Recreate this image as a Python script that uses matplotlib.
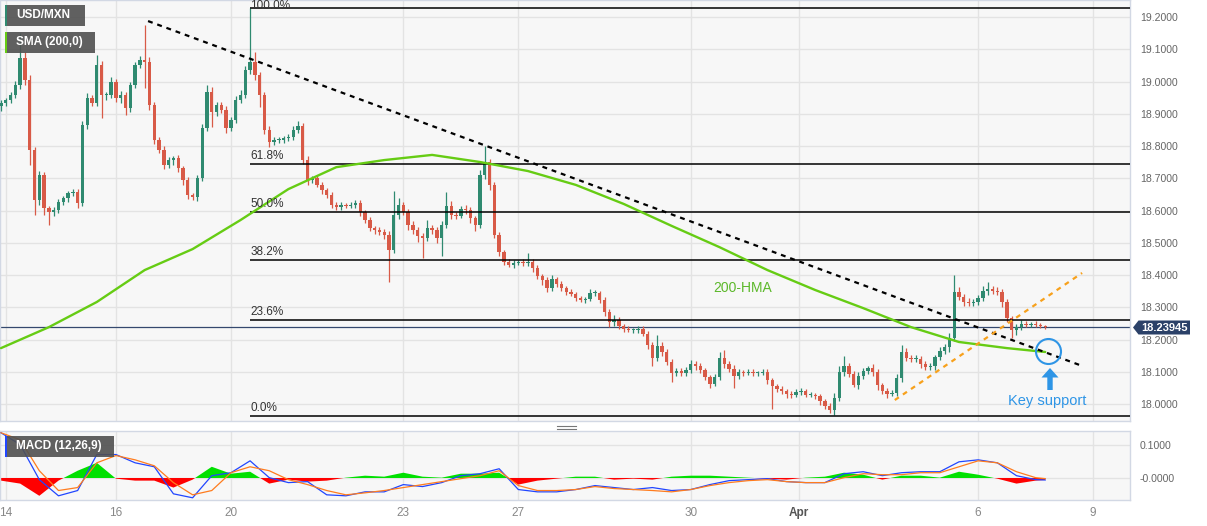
import matplotlib
matplotlib.use("Agg")
import matplotlib.pyplot as plt
from matplotlib.patches import Rectangle, Polygon
from matplotlib.lines import Line2D
import numpy as np

plt.rcParams['font.family'] = ['Liberation Sans', 'DejaVu Sans']

# ---------------- data (2-hour candles, USD/MXN) ----------------
first_open = 18.925
closes = [
    18.934, 18.943, 18.959, 18.990, 19.073, 19.005, 18.788, 18.633, 18.711, 18.608,
    18.596, 18.602, 18.627, 18.639, 18.655, 18.658, 18.624, 18.866, 18.949, 18.934,
    19.052, 18.959, 18.959, 18.999, 18.949, 18.959, 18.918, 18.990, 19.052, 19.067,
    19.061, 18.928, 18.819, 18.788, 18.742, 18.757, 18.763, 18.732, 18.695, 18.649,
    18.642, 18.701, 18.856, 18.968, 18.906, 18.928, 18.912, 18.856, 18.881, 18.943,
    18.959, 19.036, 19.061, 19.021, 18.959, 18.850, 18.813, 18.819, 18.819, 18.825,
    18.829, 18.850, 18.863, 18.757, 18.695, 18.701, 18.680, 18.664, 18.649, 18.618,
    18.611, 18.618, 18.615, 18.618, 18.624, 18.596, 18.571, 18.546, 18.540, 18.534,
    18.525, 18.478, 18.587, 18.618, 18.596, 18.556, 18.540, 18.522, 18.515, 18.546,
    18.540, 18.515, 18.556, 18.615, 18.587, 18.584, 18.605, 18.602, 18.577, 18.556,
    18.711, 18.751, 18.680, 18.525, 18.472, 18.441, 18.432, 18.438, 18.441, 18.438,
    18.441, 18.422, 18.398, 18.385, 18.360, 18.388, 18.373, 18.360, 18.348, 18.342,
    18.329, 18.323, 18.326, 18.345, 18.345, 18.323, 18.286, 18.255, 18.261, 18.242,
    18.233, 18.230, 18.230, 18.233, 18.218, 18.184, 18.143, 18.180, 18.162, 18.131,
    18.097, 18.103, 18.097, 18.106, 18.125, 18.118, 18.106, 18.084, 18.063, 18.084,
    18.143, 18.125, 18.109, 18.087, 18.100, 18.097, 18.100, 18.097, 18.097, 18.100,
    18.075, 18.056, 18.047, 18.041, 18.032, 18.029, 18.038, 18.041, 18.029, 18.029,
    18.025, 18.010, 17.994, 17.982, 18.019, 18.100, 18.118, 18.094, 18.060, 18.087,
    18.103, 18.112, 18.100, 18.060, 18.041, 18.032, 18.035, 18.081, 18.162, 18.143,
    18.140, 18.140, 18.125, 18.115, 18.118, 18.146, 18.165, 18.177, 18.205, 18.348,
    18.332, 18.317, 18.314, 18.317, 18.329, 18.351, 18.357, 18.351, 18.348, 18.317,
    18.267, 18.230, 18.239, 18.249, 18.246, 18.249, 18.246, 18.242, 18.239,
]
# wick extensions beyond the body, in thousandths
up_wick = [
    8, 6, 10, 12, 78, 20, 15, 10, 12, 8,
    6, 8, 10, 8, 6, 8, 10, 12, 15, 10,
    30, 12, 10, 15, 8, 12, 10, 8, 10, 12,
    109, 15, 10, 8, 12, 10, 8, 10, 6, 8,
    6, 10, 12, 22, 15, 10, 8, 12, 10, 12,
    15, 12, 167, 31, 10, 8, 12, 8, 10, 8,
    10, 12, 15, 10, 12, 8, 10, 8, 6, 8,
    8, 10, 6, 8, 10, 8, 6, 8, 6, 8,
    10, 12, 73, 20, 10, 8, 12, 8, 10, 25,
    10, 8, 12, 44, 15, 8, 10, 12, 8, 6,
    15, 50, 10, 8, 8, 6, 8, 10, 6, 8,
    28, 8, 10, 6, 10, 12, 8, 10, 6, 8,
    6, 8, 6, 12, 8, 6, 8, 10, 15, 8,
    6, 8, 6, 8, 10, 8, 10, 35, 12, 8,
    8, 10, 8, 10, 12, 8, 10, 6, 8, 10,
    19, 25, 10, 12, 8, 6, 8, 10, 6, 8,
    8, 6, 8, 10, 6, 8, 10, 8, 6, 8,
    6, 8, 6, 10, 15, 20, 31, 10, 8, 12,
    10, 8, 12, 8, 6, 8, 10, 12, 21, 12,
    10, 12, 10, 8, 10, 8, 12, 10, 15, 53,
    16, 10, 12, 8, 10, 15, 22, 10, 12, 8,
    8, 6, 10, 12, 8, 6, 8, 6, 5,
]
dn_wick = [
    15, 10, 8, 10, 12, 15, 47, 47, 15, 20,
    40, 12, 10, 8, 12, 10, 15, 10, 12, 10,
    10, 72, 15, 10, 12, 15, 20, 12, 10, 8,
    82, 15, 12, 10, 12, 10, 15, 12, 15, 12,
    10, 12, 10, 10, 48, 12, 10, 15, 10, 8,
    8, 10, 12, 15, 38, 12, 15, 10, 8, 10,
    8, 10, 8, 12, 15, 10, 8, 12, 10, 10,
    8, 10, 8, 6, 10, 12, 10, 8, 12, 10,
    12, 99, 10, 12, 10, 15, 12, 20, 63, 10,
    12, 15, 54, 10, 12, 10, 8, 12, 15, 20,
    10, 12, 15, 10, 12, 10, 8, 10, 6, 8,
    10, 12, 10, 15, 12, 10, 8, 10, 8, 6,
    8, 6, 8, 6, 8, 10, 12, 15, 12, 10,
    8, 6, 8, 10, 8, 12, 23, 10, 12, 10,
    29, 8, 10, 8, 10, 12, 8, 10, 13, 8,
    10, 12, 8, 38, 10, 8, 6, 8, 10, 6,
    12, 70, 10, 8, 12, 10, 8, 10, 8, 6,
    10, 12, 10, 9, 15, 10, 12, 10, 7, 12,
    8, 10, 12, 15, 10, 12, 8, 10, 12, 10,
    8, 10, 12, 8, 10, 12, 10, 8, 15, 10,
    10, 12, 8, 10, 8, 10, 12, 10, 8, 15,
    12, 25, 16, 10, 8, 6, 8, 5, 5,
]

hma_bars = [0, 10, 20, 30, 40, 50, 60, 70, 80, 90, 100, 110, 120, 130, 140,
            150, 160, 170, 180, 190, 200, 210, 218]
hma_vals = [18.174, 18.239, 18.317, 18.416, 18.481, 18.571, 18.667, 18.735,
            18.757, 18.773, 18.751, 18.723, 18.680, 18.621, 18.553, 18.487,
            18.416, 18.354, 18.298, 18.239, 18.193, 18.174, 18.162]

fib_high, fib_low = 19.228, 17.963
fib_start_bar = 52
fib_ratios = [1.0, 0.618, 0.5, 0.382, 0.236, 0.0]
fib_labels = ['100.0%', '61.8%', '50.0%', '38.2%', '23.6%', '0.0%']

down_trend_x = [30.7, 225.3]
down_trend_y = [19.188, 18.121]
up_trend_x = [186.6, 225.7]
up_trend_y = [18.013, 18.407]

last_price = 18.23945

support_bar, support_price = 218.6, 18.166
support_text_price = 18.010
hma_label_bar, hma_label_price = 154.9, 18.360

macd_bars = list(range(0, 217, 4)) + [218]
macd_line = [0.137, 0.101, -0.005, -0.054, -0.038, 0.071, 0.071, 0.046, 0.034, -0.048,
             -0.060, 0.007, 0.016, 0.052, 0.001, -0.014, -0.011, -0.051, -0.054, -0.042,
             -0.042, -0.020, -0.026, -0.014, 0.007, 0.013, 0.028, -0.035, -0.042, -0.042,
             -0.035, -0.023, -0.029, -0.035, -0.029, -0.038, -0.035, -0.020, -0.008, -0.005,
             -0.002, -0.011, -0.014, -0.014, 0.013, 0.019, 0.007, 0.016, 0.019, 0.019,
             0.049, 0.055, 0.046, 0.007, -0.005, -0.006]
signal_line = [0.137, 0.116, 0.022, -0.038, -0.029, 0.046, 0.068, 0.055, 0.037, -0.014,
               -0.051, -0.038, 0.016, 0.034, 0.022, -0.005, -0.020, -0.038, -0.051, -0.045,
               -0.038, -0.029, -0.020, -0.011, -0.002, 0.007, 0.022, -0.023, -0.038, -0.038,
               -0.035, -0.026, -0.032, -0.035, -0.038, -0.042, -0.035, -0.023, -0.014, -0.008,
               -0.005, -0.011, -0.014, -0.014, 0.001, 0.013, 0.010, 0.010, 0.016, 0.016,
               0.034, 0.052, 0.046, 0.019, 0.001, -0.002]
hist_vals = [-0.008, -0.017, -0.054, -0.008, 0.022, 0.046, -0.002, -0.008, -0.008, -0.029,
             -0.005, 0.034, 0.013, 0.019, -0.017, -0.005, -0.011, -0.008, 0.001, 0.007,
             0.004, 0.016, 0.004, 0.001, 0.013, 0.013, 0.016, -0.020, -0.008, -0.002,
             0.004, 0.004, -0.005, -0.002, -0.005, 0.004, 0.007, 0.007, 0.004, 0.001,
             -0.002, -0.005, 0.001, 0.004, 0.016, 0.010, -0.005, 0.007, 0.007, 0.001,
             0.019, 0.010, -0.002, -0.017, -0.008, -0.006]

tick_bars = [1, 24, 48, 84, 108, 144, 166.5, 204, 228]
tick_labels = ['14', '16', '20', '23', '27', '30', 'Apr', '6', '9']
price_ticks = [18.0, 18.1, 18.2, 18.3, 18.4, 18.5, 18.6, 18.7, 18.8, 18.9, 19.0, 19.1, 19.2]
macd_ticks = [0.1, 0.0]
macd_tick_labels = ['0.1000', '-0.0000']

# ---------------- styling ----------------
W, H = 1207, 526
UP, DN = '#2f8a70', '#d85a47'
BG = '#f7f7f7'
GRID = '#e3e3e3'
SPINE = '#d2d8e4'
XLIM = (-0.21, 235.7)


def F(x, y):
    return (x / W, 1 - y / H)


fig = plt.figure(figsize=(W / 100, H / 100), dpi=100)
fig.patch.set_facecolor('white')

ax = fig.add_axes([0, 1 - 421 / H, 1130 / W, 421 / H])
axm = fig.add_axes([0, 1 - 500 / H, 1130 / W, 69 / H])

for a in (ax, axm):
    a.set_facecolor(BG)
    a.set_xlim(*XLIM)
    for s in a.spines.values():
        s.set_color(SPINE)
        s.set_linewidth(1)
    a.set_xticks(tick_bars)
    a.grid(True, color=GRID, lw=1)
    a.set_axisbelow(True)
    a.yaxis.tick_right()
    a.tick_params(axis='y', length=0, pad=7, labelsize=7.6, labelcolor='#666666')
    a.tick_params(axis='x', length=0)

ax.set_ylim(17.948, 19.2533)
ax.set_yticks(price_ticks)
ax.set_yticklabels([f'{p:.4f}' for p in price_ticks])
ax.set_xticklabels([])

# candles
n = len(closes)
idx = np.arange(n)
c = np.array(closes)
o = np.array([first_open] + closes[:-1])
hi = np.maximum(o, c) + np.array(up_wick) / 1000
lo = np.minimum(o, c) - np.array(dn_wick) / 1000
cols = np.where(c >= o, UP, DN)
ax.vlines(idx, lo, hi, colors=cols, lw=0.9, zorder=3)
ax.bar(idx, np.maximum(np.abs(c - o), 0.0025), bottom=np.minimum(o, c), width=0.7,
       color=cols, linewidth=0, zorder=4)

# fibonacci levels
for r, lab in zip(fib_ratios, fib_labels):
    lvl = fib_low + r * (fib_high - fib_low)
    ax.hlines(lvl, fib_start_bar, XLIM[1], color='black', lw=1.1, zorder=5)
    off = -2.8 if r == 1.0 else 1.5
    ax.annotate(lab, (fib_start_bar, lvl), xytext=(0, off), textcoords='offset points',
                ha='left', va='bottom', fontsize=8.5, color='#333333', zorder=6)

# current price line
ax.axhline(last_price, color='#34486e', lw=0.9, zorder=2)

# 200-HMA
ax.plot(hma_bars, hma_vals, color='#66cc14', lw=1.7, zorder=5, solid_capstyle='round')
ax.text(hma_label_bar, hma_label_price, '200-HMA', color='#5cb82a', fontsize=10,
        ha='center', va='center', zorder=7)

# trend lines
ax.plot(down_trend_x, down_trend_y, color='black', lw=1.6, dashes=(2.2, 2.2), zorder=6)
ax.plot(up_trend_x, up_trend_y, color='#f7a11c', lw=1.6, dashes=(2.2, 2.2), zorder=6)

# key support
BLUE = '#2e95e6'
ax.plot([support_bar], [support_price], marker='o', ms=18, mfc='none', mec=BLUE,
        mew=1.5, zorder=8)
ax.text(support_bar - 0.2, support_text_price, 'Key support', color=BLUE, fontsize=10.5,
        ha='center', va='center', zorder=8)
arrow = [F(1050, 368), F(1041.5, 377.5), F(1047.3, 377.5), F(1047.3, 390),
         F(1052.7, 390), F(1052.7, 377.5), F(1058.5, 377.5)]
fig.add_artist(Polygon(arrow, closed=True, transform=fig.transFigure, fc=BLUE, ec='none'))

# ---------------- MACD ----------------
axm.set_ylim(-0.0667, 0.1424)
axm.set_yticks(macd_ticks)
axm.set_yticklabels(macd_tick_labels)
axm.set_xticklabels(tick_labels)
axm.tick_params(axis='x', labelsize=8.5, labelcolor='#888888', pad=5)
for t in axm.get_xticklabels():
    if t.get_text() == 'Apr':
        t.set_fontweight('bold')
        t.set_color('#555555')

hb = np.array(macd_bars)
hv = np.array(hist_vals)
axm.fill_between(hb, hv, 0, where=hv >= 0, interpolate=True, color='#00e000', lw=0, zorder=2)
axm.fill_between(hb, hv, 0, where=hv <= 0, interpolate=True, color='#ff0000', lw=0, zorder=2)
axm.plot(macd_bars, macd_line, color='#2146ff', lw=0.9, zorder=3)
axm.plot(macd_bars, signal_line, color='#ff7c1e', lw=0.9, zorder=3)

# ---------------- label boxes ----------------
def label_box(x0, y0, x1, y1, strip, text):
    fig.add_artist(Rectangle(F(x0, y1), (x1 - x0) / W, (y1 - y0) / H, transform=fig.transFigure,
                             fc='#505050', ec='none', alpha=0.9, zorder=10))
    fig.add_artist(Rectangle(F(x0, y1), 2.2 / W, (y1 - y0) / H, transform=fig.transFigure,
                             fc=strip, ec='none', zorder=11))
    fig.text(*F(x0 + 11, (y0 + y1) / 2), text, color='white', fontsize=8.5, fontweight='bold',
             ha='left', va='center', zorder=12)


label_box(5, 5, 85, 26, '#2f8a70', 'USD/MXN')
label_box(5, 32, 95, 53, '#66cc14', 'SMA (200,0)')
label_box(5, 436, 114, 457, '#2146ff', 'MACD (12,26,9)')

# price tag
tag = [F(1133, 327.5), F(1138.5, 320.5), F(1190, 320.5), F(1190, 334.5), F(1138.5, 334.5)]
fig.add_artist(Polygon(tag, closed=True, transform=fig.transFigure, fc='#2b4168', ec='none'))
fig.text(*F(1164, 327.8), f'{last_price:.5f}', color='white', fontsize=8, fontweight='bold',
         ha='center', va='center')

# pane separator handle
for yy in (426, 428.5):
    fig.add_artist(Line2D([557 / W, 576 / W], [1 - yy / H] * 2, transform=fig.transFigure,
                          color='#777777', lw=0.8))

fig.savefig('out.png', dpi=100, facecolor='white')
